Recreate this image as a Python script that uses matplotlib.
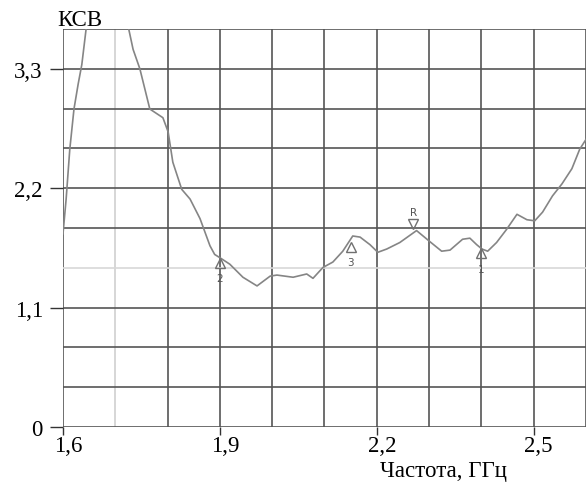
import matplotlib
matplotlib.use("Agg")
import matplotlib.pyplot as plt
import matplotlib.transforms as mtransforms
import numpy as np

# VSWR vs frequency
freq = [1.600, 1.606, 1.613, 1.621, 1.629, 1.636, 1.644, 1.660, 1.690, 1.715,
        1.726, 1.734, 1.747, 1.766, 1.791, 1.801, 1.810, 1.827, 1.843, 1.862,
        1.881, 1.890, 1.900, 1.919, 1.944, 1.971, 1.996, 2.009, 2.040, 2.066,
        2.078, 2.097, 2.116, 2.135, 2.154, 2.168, 2.187, 2.202, 2.219, 2.244,
        2.276, 2.301, 2.324, 2.340, 2.364, 2.378, 2.391, 2.401, 2.412, 2.429,
        2.448, 2.468, 2.487, 2.502, 2.517, 2.536, 2.554, 2.573, 2.588, 2.600]
vswr = [1.78, 2.10, 2.56, 2.93, 3.16, 3.34, 3.66, 4.00, 4.10, 3.90,
        3.66, 3.48, 3.30, 2.93, 2.85, 2.72, 2.44, 2.19, 2.10, 1.92,
        1.67, 1.59, 1.56, 1.50, 1.38, 1.30, 1.39, 1.40, 1.38, 1.41,
        1.37, 1.47, 1.52, 1.62, 1.76, 1.75, 1.68, 1.61, 1.64, 1.70,
        1.81, 1.71, 1.62, 1.63, 1.73, 1.74, 1.68, 1.64, 1.62, 1.70,
        1.82, 1.96, 1.91, 1.90, 1.98, 2.13, 2.24, 2.38, 2.56, 2.65]

# analyser markers
mk_names = ['2', '3', 'R', '1']
mk_freq = [1.900, 2.150, 2.270, 2.400]
mk_vswr = [1.51, 1.66, 1.87, 1.60]
mk_up = [True, True, False, True]

xticks = [1.6, 1.9, 2.2, 2.5]
xlabels = ['1,6', '1,9', '2,2', '2,5']
yticks = [0, 1.1, 2.2, 3.3]
ylabels = ['0', '1,1', '2,2', '3,3']

serif = 'Liberation Serif'
fs = 16.5

fig = plt.figure(figsize=(5.86, 4.85), dpi=100)
ax = fig.add_axes([0.1075, 0.1175, 0.8925, 0.8205])
ax.set_xlim(1.6, 2.6)
ax.set_ylim(0, 11 / 3)

# grid: 0.1 GHz columns, 1/3 of 1.1 rows; one light line each way
for i, gx in enumerate(np.linspace(1.6, 2.6, 11)):
    c = '#cfcfcf' if i == 1 else '#555555'
    ax.axvline(gx, color=c, lw=1.2, zorder=1)
for j, gy in enumerate(np.linspace(0, 11 / 3, 11)):
    c = '#d8d8d8' if j == 4 else '#555555'
    ax.axhline(gy, color=c, lw=1.2, zorder=1)
for s in ax.spines.values():
    s.set_visible(False)

ax.plot(freq, vswr, color='#858585', lw=1.2, zorder=3)

for name, fx, fy, up in zip(mk_names, mk_freq, mk_vswr, mk_up):
    ax.plot(fx, fy, marker='^' if up else 'v', ms=7.5, mfc='none',
            mec='#707070', mew=1.0, zorder=4)
    dy = -11 if up else 9
    ax.annotate(name, (fx, fy), xytext=(0, dy), textcoords='offset points',
                ha='center', va='center', fontsize=7.5, color='#555555')

ax.set_xticks(xticks)
ax.set_xticklabels(xlabels, fontsize=fs, family=serif)
ax.set_yticks(yticks)
ax.set_yticklabels(ylabels, fontsize=fs, family=serif)
ax.tick_params(axis='x', length=6, width=1, pad=0, color='#333333')
ax.tick_params(axis='y', length=9.5, width=1, pad=5, color='#333333')
off = mtransforms.ScaledTranslation(5 / 100, 0, fig.dpi_scale_trans)
for lab in ax.get_xticklabels():
    lab.set_transform(lab.get_transform() + off)

fig.text(0.097, 0.946, 'КСВ', fontsize=fs, family=serif, ha='left', va='baseline')
fig.text(0.756, 0.016, 'Частота, ГГц', fontsize=fs, family=serif, ha='center', va='baseline')

fig.savefig('out.png', dpi=100)
